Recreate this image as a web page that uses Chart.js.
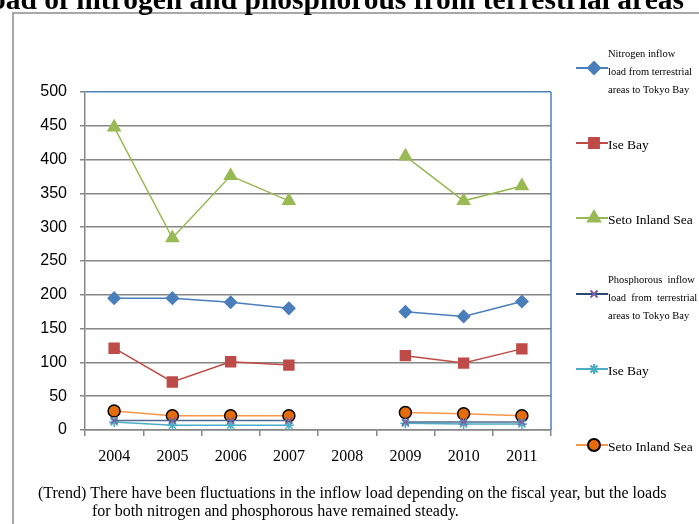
<!DOCTYPE html>
<html>
<head>
<meta charset="utf-8">
<script src="https://cdn.jsdelivr.net/npm/chart.js@4/dist/chart.umd.min.js"></script>
<style>
  html, body { margin: 0; padding: 0; background: #fff; }
  canvas { display: block; }
</style>
</head>
<body>
<canvas id="load-chart" width="699" height="524"></canvas>
<script>
// fiscal years (2008 has no data)
const years = ['2004', '2005', '2006', '2007', '2008', '2009', '2010', '2011'];
const yTicks = [0, 50, 100, 150, 200, 250, 300, 350, 400, 450, 500];

// nitrogen
const nTokyo = [195, 195, 189, 180, null, 175, 168, 190];
const nIse = [121, 71, 101, 96, null, 110, 99, 120];
const nSeto = [448, 284, 376, 339, null, 405, 339, 361];
// phosphorous
const pTokyo = [14, 14, 14, 14, null, 12, 12, 12];
const pIse = [12, 7, 7, 7, null, 10, 9, 9];
const pSeto = [28, 21, 21, 21, null, 26, 24, 21];

const titleText = 'load of nitrogen and phosphorous from terrestrial areas';
const legendTexts = [
    ['Nitrogen inflow', 'load from terrestrial', 'areas to Tokyo Bay'],
    ['Ise Bay'],
    ['Seto Inland Sea'],
    ['Phosphorous  inflow', 'load  from  terrestrial', 'areas to Tokyo Bay'],
    ['Ise Bay'],
    ['Seto Inland Sea']
];
const noteLines = [
    '(Trend) There have been fluctuations in the inflow load depending on the fiscal year, but the loads',
    'for both nitrogen and phosphorous have remained steady.'
];

const legendY = [68, 143, 218, 294, 369, 445];

// marco, titulo, leyenda y nota
const extrasPlugin = {
    id: 'extras',
    beforeDraw(chart) {
        const ctx = chart.ctx;
        ctx.save();
        ctx.strokeStyle = '#8c8c8c';
        ctx.lineWidth = 1.5;
        ctx.beginPath();
        ctx.moveTo(13, 530);
        ctx.lineTo(13, 13);
        ctx.lineTo(710, 13);
        ctx.stroke();
        ctx.restore();
    },
    afterDatasetsDraw(chart) {
        const ctx = chart.ctx;
        const area = chart.chartArea;
        ctx.save();
        // borde derecho azul del area de trazado
        ctx.strokeStyle = '#4F81BD';
        ctx.lineWidth = 1.5;
        ctx.beginPath();
        ctx.moveTo(area.right, area.top);
        ctx.lineTo(area.right, area.bottom);
        ctx.stroke();

        // titulo (cortado arriba)
        ctx.fillStyle = '#000';
        ctx.font = 'bold 29.5px "Liberation Serif", serif';
        ctx.textAlign = 'right';
        ctx.textBaseline = 'alphabetic';
        ctx.fillText(titleText, 684, 9);

        // leyenda
        ctx.textAlign = 'left';
        chart.data.datasets.forEach((ds, i) => {
            const y = legendY[i];
            ctx.strokeStyle = ds.legendLine || ds.borderColor;
            ctx.lineWidth = 2;
            ctx.beginPath();
            ctx.moveTo(576, y);
            ctx.lineTo(608, y);
            ctx.stroke();
            ctx.fillStyle = ds.pointBackgroundColor;
            ctx.strokeStyle = ds.pointBorderColor;
            Chart.helpers.drawPoint(ctx, {
                pointStyle: ds.pointStyle,
                radius: ds.pointRadius,
                borderWidth: ds.pointBorderWidth,
                rotation: 0
            }, 594, y);

            const lines = legendTexts[i];
            ctx.fillStyle = '#000';
            if (lines.length > 1) {
                ctx.font = '10.5px "Liberation Serif", serif';
                ctx.textBaseline = 'middle';
                lines.forEach((t, k) => ctx.fillText(t, 608, y - 14 + k * 18));
            } else {
                ctx.font = '13.5px "Liberation Serif", serif';
                ctx.textBaseline = 'middle';
                ctx.fillText(lines[0], 608, y + 2);
            }
        });

        // nota
        ctx.font = '16px "Liberation Serif", serif';
        ctx.textBaseline = 'alphabetic';
        ctx.fillText(noteLines[0], 38, 498);
        ctx.fillText(noteLines[1], 92, 516);
        ctx.restore();
    }
};

function line(data, color, style, radius, fill, border, extra) {
    return Object.assign({
        data: data,
        borderColor: color,
        borderWidth: 1.5,
        pointStyle: style,
        pointRadius: radius,
        pointHoverRadius: radius,
        pointBackgroundColor: fill,
        pointBorderColor: border,
        pointBorderWidth: 1.5,
        spanGaps: false,
        tension: 0
    }, extra || {});
}

new Chart(document.getElementById('load-chart'), {
    type: 'line',
    data: {
        labels: years,
        datasets: [
            line(nTokyo, '#4A7EBB', 'rectRot', 6, '#4A7EBB', '#4A7EBB'),
            line(nIse, '#BE4B48', 'rect', 7, '#BE4B48', '#BE4B48'),
            line(nSeto, '#98B954', 'triangle', 7, '#98B954', '#98B954'),
            line(pTokyo, '#4F6A8C', 'crossRot', 5, '#7D60A0', '#7D60A0', { legendLine: '#2A4A70' }),
            line(pIse, '#4BACC6', 'star', 5, '#4BACC6', '#4BACC6'),
            line(pSeto, '#F79646', 'circle', 6, '#E46C0A', '#000000')
        ]
    },
    options: {
        responsive: false,
        animation: false,
        layout: { padding: { left: 0, top: 92, right: 148, bottom: 54 } },
        plugins: {
            legend: { display: false },
            title: { display: false },
            tooltip: { enabled: false }
        },
        scales: {
            x: {
                offset: true,
                afterFit: (scale) => { scale.height = 40; },
                grid: {
                    offset: true,
                    drawOnChartArea: false,
                    color: '#868686',
                    tickLength: 6,
                    lineWidth: 1.5
                },
                border: { color: '#868686', width: 1.5 },
                ticks: {
                    color: '#000',
                    padding: 11,
                    maxRotation: 0,
                    font: { family: '"Liberation Serif", serif', size: 16 }
                }
            },
            y: {
                min: 0,
                max: 500,
                afterFit: (scale) => { scale.width = 85; },
                afterBuildTicks: (scale) => { scale.ticks = yTicks.map(v => ({ value: v })); },
                grid: {
                    color: (c) => c.tick && c.tick.value === 500 ? '#4F81BD' : '#868686',
                    tickColor: '#868686',
                    tickLength: 5,
                    lineWidth: 1.5
                },
                border: { color: '#868686', width: 1.5 },
                ticks: {
                    color: '#000',
                    padding: 13,
                    font: { family: '"Liberation Sans", sans-serif', size: 16 }
                }
            }
        }
    },
    plugins: [extrasPlugin]
});
</script>
</body>
</html>
